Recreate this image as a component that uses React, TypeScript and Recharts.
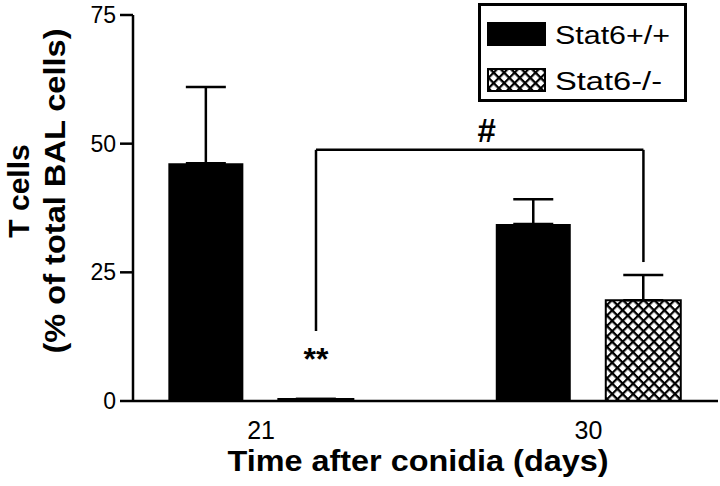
import React from 'react';
import { BarChart, Bar, XAxis, YAxis, ErrorBar, ReferenceLine, ReferenceDot, Legend } from 'recharts';

const days = [21, 30];
const seriesNames = ['Stat6+/+', 'Stat6-/-'];
const wtValues = [46.2, 34.4];
const wtErrors = [14.8, 4.8];
const koValues = [0.4, 19.6];
const koErrors = [0, 4.9];
const yTicks = [0, 25, 50, 75];
const xTicks = [21, 30];
const xTitle = 'Time after conidia (days)';
const yTitleLines = ['T cells', '(% of total BAL cells)'];
// significance bracket between Stat6-/- groups (data units)
const bracketX = [22.51, 31.51];
const bracketTop = 48.8;
const bracketEnds = [13.6, 27.0];
const hashMark = { x: 27.2, y: 50.3, text: '#' };
const starMark = { x: 22.51, y: 6.0, text: '**' };

const FONT = '"Liberation Sans", Arial, Helvetica, sans-serif';

const data = days.map((d, i) => ({
  day: d,
  wt: wtValues[i],
  wtErr: [0, wtErrors[i]],
  ko: koValues[i],
  koErr: [0, koErrors[i]],
}));

const legendTextLen = [115, 107];

const Hatch = ({ id }: { id: string }) => (
  <pattern id={id} width={7.4} height={7.4} patternUnits="userSpaceOnUse" patternTransform="rotate(45)">
    <rect width={7.4} height={7.4} fill="#fff" />
    <path d="M0 0 H7.4 M0 0 V7.4" stroke="#000" strokeWidth={4.4} />
  </pattern>
);

const LegendBox = () => (
  <svg width={209} height={99} style={{ display: 'block' }}>
    <defs>
      <Hatch id="xhatchLegend" />
    </defs>
    <rect x={1.5} y={1.5} width={206} height={96} fill="#fff" stroke="#000" strokeWidth={3} />
    {seriesNames.map((name, i) => (
      <g key={name}>
        <rect x={10} y={20 + 46 * i} width={57} height={22}
          fill={i === 0 ? '#000' : 'url(#xhatchLegend)'} stroke="#000" strokeWidth={2} />
        <text x={77} y={41 + 46 * i} fontSize={26} fontFamily={FONT} fill="#000"
          textLength={legendTextLen[i]} lengthAdjust="spacingAndGlyphs">{name}</text>
      </g>
    ))}
  </svg>
);

const YTitle = () => (
  <g>
    <text transform="translate(29,191) rotate(-90)" textAnchor="middle" fontSize={30}
      fontWeight="bold" fontFamily={FONT} fill="#000">{yTitleLines[0]}</text>
    <text transform="translate(65,191) rotate(-90)" textAnchor="middle" fontSize={30}
      fontWeight="bold" fontFamily={FONT} fill="#000" textLength={325}
      lengthAdjust="spacingAndGlyphs">{yTitleLines[1]}</text>
  </g>
);

const XTitle = () => (
  <text x={418} y={471} textAnchor="middle" fontSize={29} fontWeight="bold"
    fontFamily={FONT} fill="#000" textLength={381} lengthAdjust="spacingAndGlyphs">{xTitle}</text>
);

const markShape = (text: string, size: number) => (p: any) => (
  <text x={p.cx} y={p.cy} textAnchor="middle" fontSize={size} fontWeight="bold"
    fontFamily={FONT} fill="#000">{text}</text>
);

export default function App() {
  return (
    <div style={{ position: 'absolute', left: 0, top: 0, background: '#fff' }}>
      <BarChart width={720} height={486} data={data} barGap={35}
        margin={{ top: 15, right: 2, bottom: 0, left: 0 }}>
        <defs>
          <Hatch id="xhatch" />
        </defs>
        <XAxis dataKey="day" type="number" domain={[17.48, 33.56]} allowDataOverflow
          ticks={xTicks} height={85} tickLine={false} tickSize={12} tickMargin={8}
          axisLine={{ stroke: '#000', strokeWidth: 2.5 }}
          tick={{ fill: '#000', fontSize: 25, fontFamily: FONT }}
          label={<XTitle />} />
        <YAxis type="number" domain={[0, 75]} ticks={yTicks} width={133}
          tickSize={13} tickMargin={4}
          axisLine={{ stroke: '#000', strokeWidth: 2.5 }}
          tickLine={{ stroke: '#000', strokeWidth: 2.5 }}
          tick={{ fill: '#000', fontSize: 23, fontFamily: FONT }}
          label={<YTitle />} />
        <Legend content={LegendBox} layout="horizontal" verticalAlign="middle" align="center"
          wrapperStyle={{ top: 3, left: 478, width: 209, height: 99 }} />
        <Bar dataKey="wt" name={seriesNames[0]} fill="#000" barSize={75} isAnimationActive={false}>
          <ErrorBar dataKey="wtErr" width={20} stroke="#000" strokeWidth={2.5} direction="y" />
        </Bar>
        <Bar dataKey="ko" name={seriesNames[1]} fill="url(#xhatch)" stroke="#000" strokeWidth={2}
          barSize={75} isAnimationActive={false}>
          <ErrorBar dataKey="koErr" width={20} stroke="#000" strokeWidth={2.5} direction="y" />
        </Bar>
        <ReferenceLine segment={[{ x: bracketX[0], y: bracketEnds[0] }, { x: bracketX[0], y: bracketTop }]}
          stroke="#000" strokeWidth={2.5} />
        <ReferenceLine segment={[{ x: bracketX[0], y: bracketTop }, { x: bracketX[1], y: bracketTop }]}
          stroke="#000" strokeWidth={2.5} />
        <ReferenceLine segment={[{ x: bracketX[1], y: bracketTop }, { x: bracketX[1], y: bracketEnds[1] }]}
          stroke="#000" strokeWidth={2.5} />
        <ReferenceDot x={hashMark.x} y={hashMark.y} r={1} shape={markShape(hashMark.text, 33)} />
        <ReferenceDot x={starMark.x} y={starMark.y} r={1} shape={markShape(starMark.text, 32)} />
      </BarChart>
    </div>
  );
}
